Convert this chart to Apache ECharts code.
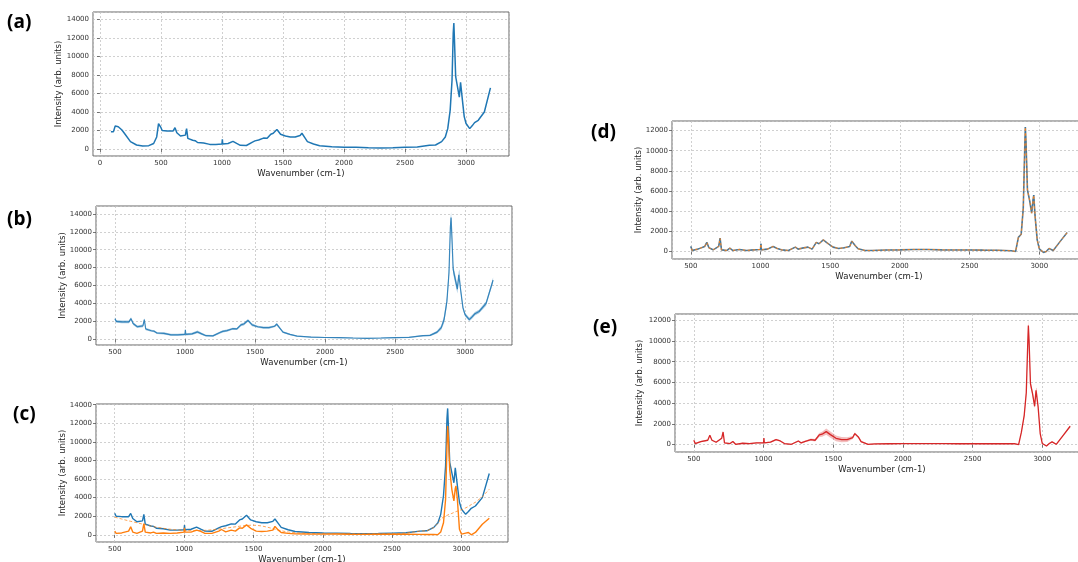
<!DOCTYPE html>
<html>
<head>
<meta charset="utf-8">
<title>Raman spectra</title>
<script src="https://cdn.jsdelivr.net/npm/echarts@6.0.0/dist/echarts.min.js"></script>
<style>
    html, body { margin: 0; padding: 0; background: #fff; }
    #spectraCharts { width: 1078px; height: 562px; }
</style>
</head>
<body>
<div id="spectraCharts"></div>
<script>
    // low wavenumber part, only measured in panel (a)
    var wnLow = [90, 110, 125, 150, 180, 200, 250, 300, 350, 400, 440, 465, 480, 490];
    var rawLow = [1850, 1850, 2480, 2400, 2050, 1700, 800, 430, 320, 360, 600, 1300, 2750, 2600];

    // wavenumber (cm-1) shared by every spectrum from 500 on
    var wn = [500, 510, 550, 600, 615, 630, 660, 700, 710, 720, 760, 780, 800, 850, 900, 950,
        1000, 1003, 1006, 1050, 1090, 1120, 1150, 1200, 1250, 1270, 1300, 1340, 1370, 1400, 1420,
        1450, 1480, 1520, 1560, 1600, 1640, 1655, 1680, 1700, 1750, 1800, 1900, 2000, 2100, 2200,
        2300, 2400, 2500, 2600, 2700, 2750, 2800, 2830, 2850, 2870, 2885, 2895, 2900, 2905, 2915,
        2930, 2945, 2955, 2960, 2970, 2985, 3000, 3030, 3050, 3070, 3100, 3150, 3200];

    // raw spectrum (mean), panels a b c
    var rawMean = [2300, 2000, 1950, 1950, 2300, 1750, 1400, 1500, 2200, 1150, 950, 900, 700, 650, 500, 500,
        540, 1050, 540, 600, 820, 600, 400, 380, 750, 880, 970, 1180, 1150, 1600, 1700,
        2100, 1600, 1400, 1300, 1300, 1450, 1700, 1200, 800, 540, 360, 250, 200, 180, 140,
        110, 140, 180, 220, 400, 430, 800, 1300, 2200, 4200, 7400, 12500, 13600, 11800, 7800,
        6700, 5600, 7200, 7400, 5300, 3500, 2750, 2200, 2500, 2850, 3100, 4000, 6600];
    // spread of the raw replicates, panel b
    var rawSpread = [150, 150, 150, 150, 150, 150, 150, 150, 150, 150, 120, 120, 120, 120, 120, 120,
        120, 150, 120, 120, 150, 120, 100, 100, 120, 120, 120, 120, 120, 150, 150,
        150, 150, 120, 120, 120, 120, 150, 120, 100, 80, 60, 60, 60, 60, 60,
        60, 60, 60, 60, 80, 100, 150, 250, 400, 500, 600, 700, 600, 600, 500,
        500, 500, 400, 400, 300, 250, 200, 200, 200, 200, 200, 250, 300];

    // baseline corrected spectrum and fitted baseline, panel c
    var corrected = [400, 150, 200, 400, 860, 290, 150, 400, 1200, 290, 200, 290, 150, 200, 150, 200,
        290, 750, 290, 290, 500, 360, 150, 150, 400, 570, 320, 500, 400, 750, 700,
        1070, 700, 400, 360, 400, 500, 900, 500, 250, 150, 100, 80, 70, 80, 60,
        50, 60, 70, 60, 50, 40, 30, 20, 300, 1300, 3800, 9500, 11700, 10500, 7000,
        4900, 3650, 5000, 5250, 3800, 600, 70, 180, 250, 0, 250, 1140, 1790];
    var baseline = [1900, 1860, 1700, 1500, 1450, 1400, 1300, 1150, 1120, 1080, 950, 880, 820, 700, 600, 520,
        470, 470, 470, 450, 450, 460, 480, 530, 620, 660, 720, 800, 860, 920, 960,
        1000, 1030, 1020, 950, 820, 660, 600, 500, 430, 300, 220, 150, 120, 110, 100,
        90, 100, 120, 180, 400, 430, 780, 1250, 1700, 1900, 2000, 2080, 2120, 2150, 2220,
        2300, 2400, 2460, 2500, 2560, 2620, 2700, 2900, 3050, 3250, 3500, 4100, 4900];

    // averaged corrected spectrum, panel d
    var meanD = [500, 100, 230, 500, 900, 360, 160, 500, 1320, 160, 100, 330, 100, 200, 100, 160,
        200, 760, 160, 230, 500, 300, 160, 100, 430, 230, 330, 430, 230, 900, 760,
        1150, 820, 430, 300, 360, 500, 1020, 560, 260, 100, 100, 140, 160, 200, 200,
        160, 150, 150, 130, 120, 100, 70, 0, 1400, 1700, 4300, 10000, 12350, 10700, 6100,
        5100, 3800, 5100, 5600, 3460, 1150, 260, -100, 0, 300, 100, 1000, 1880];

    // averaged spectrum with spread, panel e
    var meanE = [420, 100, 290, 420, 900, 420, 230, 610, 1220, 160, 100, 290, 30, 130, 100, 160,
        160, 640, 160, 230, 480, 350, 100, 30, 350, 160, 320, 480, 420, 930, 1000,
        1250, 960, 610, 480, 480, 680, 1060, 740, 290, 30, 60, 80, 100, 100, 100,
        90, 80, 100, 80, 80, 80, 100, 0, 1200, 2800, 5000, 9500, 11500, 10070, 5890,
        4920, 3700, 5240, 5300, 3640, 1060, 100, -130, 100, 260, 30, 900, 1770];
    var spreadE = [60, 60, 60, 60, 80, 60, 60, 60, 80, 60, 60, 60, 60, 60, 60, 60,
        60, 80, 60, 60, 80, 60, 60, 60, 80, 80, 80, 100, 120, 200, 250,
        300, 300, 280, 250, 220, 150, 120, 100, 80, 60, 40, 40, 40, 40, 40,
        40, 40, 40, 40, 40, 40, 40, 40, 100, 200, 300, 450, 500, 450, 300,
        250, 200, 200, 200, 150, 100, 60, 60, 60, 60, 60, 80, 100];

    var xStep = 500;
    var yStep = 2000;

    function pairs(xs, ys) {
        return xs.map(function (x, i) { return [x, ys[i]]; });
    }

    // layout of the five panels (pixels) and axis ranges
    var panels = [
        {tag: '(a)', tagX: 7, tagY: 13, left: 93, top: 12, width: 416, height: 144, x: [-57, 3352], y: [-754, 14786], yGap: 30},
        {tag: '(b)', tagX: 7, tagY: 210, left: 96, top: 206, width: 416, height: 139, x: [365, 3335], y: [-640, 14880], yGap: 29},
        {tag: '(c)', tagX: 13, tagY: 405, left: 96, top: 404, width: 412, height: 138, x: [365, 3335], y: [-775, 14075], yGap: 29},
        {tag: '(d)', tagX: 591, tagY: 123, left: 672, top: 121, width: 414, height: 138, x: [365, 3335], y: [-750, 12950], yGap: 29},
        {tag: '(e)', tagX: 593, tagY: 318, left: 675, top: 314, width: 414, height: 138, x: [365, 3335], y: [-715, 12610], yGap: 31}
    ];

    var gridLine = {show: true, lineStyle: {color: '#c4c4c4', width: 0.8, type: [2, 2]}};
    var tickFont = {color: '#333', fontSize: 7, fontFamily: 'DejaVu Sans'};
    var nameFont = {color: '#222', fontSize: 8.5, fontFamily: 'DejaVu Sans'};

    var grids = [], xAxes = [], yAxes = [], tags = [];
    panels.forEach(function (p, i) {
        grids.push({
            left: p.left, top: p.top, width: p.width, height: p.height,
            show: true, borderColor: '#666', borderWidth: 1,
            containLabel: false, outerBoundsMode: 'none'
        });
        xAxes.push({
            type: 'value', gridIndex: i, min: p.x[0], max: p.x[1],
            splitNumber: 7, minInterval: xStep, maxInterval: xStep,
            name: 'Wavenumber (cm-1)', nameLocation: 'middle', nameGap: 13,
            nameTextStyle: nameFont, nameMoveOverlap: false,
            axisLine: {show: false},
            axisTick: {show: true, inside: false, length: 3, lineStyle: {color: '#555', width: 0.8}},
            axisLabel: Object.assign({margin: 4, showMinLabel: false, showMaxLabel: false,
                formatter: function (v) { return String(v); }}, tickFont),
            splitLine: gridLine
        });
        yAxes.push({
            type: 'value', gridIndex: i, min: p.y[0], max: p.y[1],
            splitNumber: 7, minInterval: yStep, maxInterval: yStep,
            name: 'Intensity (arb. units)', nameLocation: 'middle', nameGap: p.yGap,
            nameTextStyle: nameFont, nameMoveOverlap: false,
            axisLine: {show: false},
            axisTick: {show: true, inside: false, length: 3, lineStyle: {color: '#555', width: 0.8}},
            axisLabel: Object.assign({margin: 4, showMinLabel: false, showMaxLabel: false,
                formatter: function (v) { return String(v); }}, tickFont),
            splitLine: gridLine
        });
        tags.push({
            type: 'text', left: p.tagX, top: p.tagY,
            style: {text: p.tag, font: 'bold 19px "Open Sans"', fill: '#000'}
        });
    });

    function line(idx, data, color, width, extra) {
        return Object.assign({
            type: 'line', xAxisIndex: idx, yAxisIndex: idx, data: data,
            showSymbol: false, symbol: 'none', silent: true,
            lineStyle: {color: color, width: width}
        }, extra || {});
    }

    // shaded spread: polygon through mean+spread and back along mean-spread
    function band(idx, mean, spread, color, opacity) {
        var upper = mean.map(function (v, i) { return v + spread[i]; });
        var lower = mean.map(function (v, i) { return v - spread[i]; });
        return {
            type: 'custom', xAxisIndex: idx, yAxisIndex: idx, silent: true, clip: true,
            data: [[wn[0], mean[0]]],
            renderItem: function (params, api) {
                var pts = [];
                for (var i = 0; i < wn.length; i++) pts.push(api.coord([wn[i], upper[i]]));
                for (var j = wn.length - 1; j >= 0; j--) pts.push(api.coord([wn[j], lower[j]]));
                return {type: 'polygon', shape: {points: pts}, style: {fill: color, opacity: opacity}};
            }
        };
    }

    var blue = '#1f77b4', orange = '#ff7f0e', red = '#d62728', grey = '#7f7f7f';

    var series = [];
    // (a)
    series.push(line(0, pairs(wnLow.concat(wn), rawLow.concat(rawMean)), blue, 1.5));
    // (b)
    series.push(band(1, rawMean, rawSpread, blue, 0.4));
    series.push(line(1, pairs(wn, rawMean), blue, 1.2, {lineStyle: {color: blue, width: 1.2, opacity: 0.85}}));
    // (c)
    series.push(line(2, pairs(wn, rawMean), blue, 1.4));
    series.push(line(2, pairs(wn, corrected), orange, 1.4));
    series.push(line(2, pairs(wn, baseline), orange, 1, {lineStyle: {color: orange, width: 1, type: [3, 2], opacity: 0.7}}));
    // (d)
    series.push(line(3, pairs(wn, meanD), grey, 1.6));
    series.push(line(3, pairs(wn, meanD), blue, 1, {lineStyle: {color: blue, width: 1, type: [2, 3], opacity: 0.8}}));
    series.push(line(3, pairs(wn, meanD), orange, 1, {lineStyle: {color: orange, width: 1, type: [2, 3], dashOffset: 2.5, opacity: 0.8}}));
    // (e)
    series.push(band(4, meanE, spreadE, red, 0.3));
    series.push(line(4, pairs(wn, meanE), red, 1.3));

    var option = {
        animation: false,
        backgroundColor: '#fff',
        grid: grids,
        xAxis: xAxes,
        yAxis: yAxes,
        graphic: tags,
        series: series
    };

    var myChart = echarts.init(document.getElementById('spectraCharts'), null, {renderer: 'canvas'});
    myChart.setOption(option);
</script>
</body>
</html>
